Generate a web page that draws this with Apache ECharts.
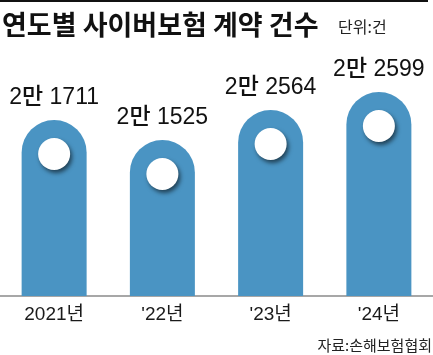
<!DOCTYPE html>
<html>
<head>
<meta charset="utf-8">
<script src="https://cdn.jsdelivr.net/npm/echarts@6/dist/echarts.min.js"></script>
<style>
html,body{margin:0;padding:0;background:#fff;}
#c{width:433px;height:355px;}
</style>
</head>
<body>
<div id="c"></div>
<script>
// Categories (x-axis tick labels)
const categories = ["2021년", "'22년", "'23년", "'24년"];
// Contract counts shown in labels (건)
const counts = [21711, 21525, 22564, 22599];
// Illustrative bar heights as drawn in the infographic (not proportional to counts)
const barHeights = [176, 156, 186, 204];

const titleText = "연도별 사이버보험 계약 건수";
const unitText = "단위:건";
const sourceText = "자료:손해보험협회";

function fmt(v) {
  return Math.floor(v / 10000) + "만 " + (v % 10000);
}

const KR = "'Noto Sans CJK KR', 'Noto Sans', sans-serif";
const NUM = "'Liberation Sans', 'Noto Sans CJK KR', sans-serif";

const chart = echarts.init(document.getElementById('c'), null, {renderer: 'canvas'});
chart.setOption({
  animation: false,
  backgroundColor: '#fff',
  grid: {left: -7, right: -6, top: 60, bottom: 59, containLabel: false},
  xAxis: {
    type: 'category',
    data: categories,
    axisLine: {show: true, lineStyle: {color: '#8a8a8a', width: 1.5}},
    axisTick: {show: false},
    axisLabel: {color: '#1a1a1a', fontSize: 19, fontFamily: NUM, margin: 9}
  },
  yAxis: {
    type: 'value', min: 0, max: 236,
    show: false, splitLine: {show: false}
  },
  series: [
    {
      type: 'bar',
      data: barHeights.map((h, i) => ({value: h, count: counts[i]})),
      barWidth: 65,
      itemStyle: {color: '#4a94c3', borderRadius: [32.5, 32.5, 0, 0]},
      label: {
        show: true, position: 'top', distance: 11,
        formatter: p => fmt(counts[p.dataIndex]),
        color: '#111', fontSize: 23, fontWeight: 500, fontFamily: NUM
      },
      z: 2
    },
    {
      type: 'scatter',
      data: barHeights,
      symbol: 'circle',
      symbolSize: 32,
      symbolOffset: [0, 34],
      itemStyle: {
        color: '#ffffff', opacity: 1,
        shadowBlur: 4, shadowColor: 'rgba(0,0,0,0.55)',
        shadowOffsetX: 2, shadowOffsetY: 3
      },
      silent: true,
      z: 3
    }
  ],
  graphic: [
    {type: 'line', shape: {x1: 0, y1: 1, x2: 428, y2: 1}, style: {stroke: '#111', lineWidth: 2}},
    {type: 'text', x: 2, y: 25, style: {text: titleText, font: 'bold 27px ' + KR, fill: '#111', textVerticalAlign: 'middle'}},
    {type: 'text', x: 338, y: 27, style: {text: unitText, font: '16px ' + KR, fill: '#222', textVerticalAlign: 'middle'}},
    {type: 'text', x: 432, y: 345, style: {text: sourceText, font: '15px ' + KR, fill: '#222', textAlign: 'right', textVerticalAlign: 'middle'}}
  ]
});
</script>
</body>
</html>
